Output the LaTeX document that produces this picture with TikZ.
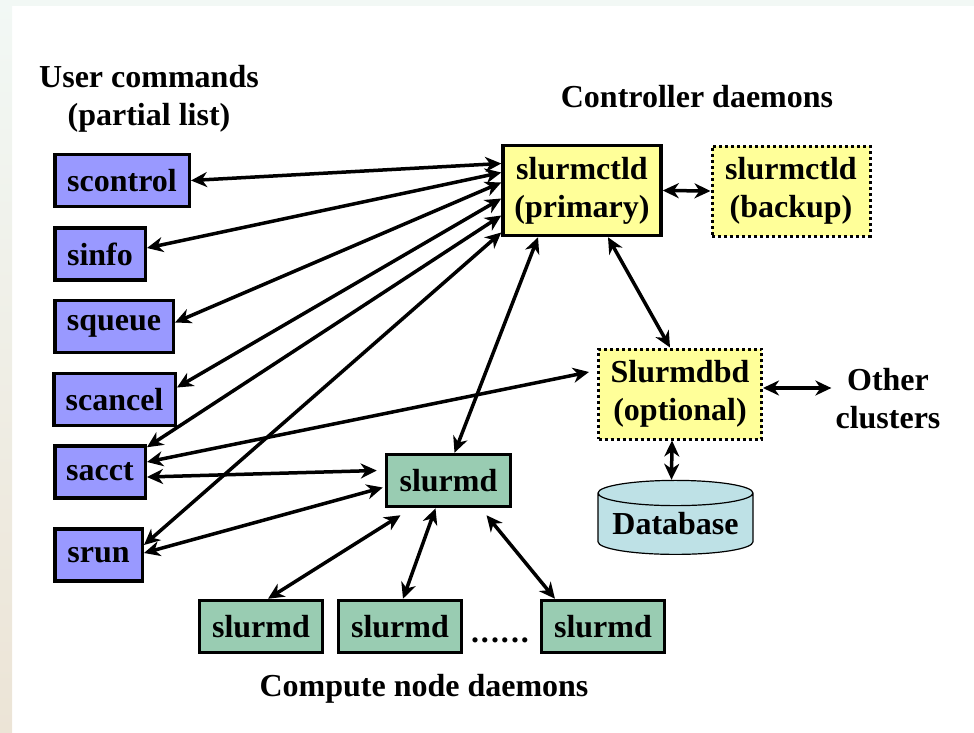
\documentclass[tikz,border=0pt]{standalone}
\usepackage{fontspec}
\setmainfont{Liberation Serif}
\usetikzlibrary{arrows.meta,shapes.geometric}
\definecolor{cmdblue}{RGB}{153,153,255}
\definecolor{ctlyellow}{RGB}{255,255,153}
\definecolor{dgreen}{RGB}{153,204,178}
\definecolor{dbblue}{RGB}{190,225,230}
\definecolor{pagetop}{RGB}{242,248,245}
\definecolor{pageside}{RGB}{236,228,214}

\begin{document}
\begin{tikzpicture}[x=1pt, y=-1pt, font=\fontsize{32}{38}\selectfont\bfseries,
	box/.style={draw=black, line width=3.5pt, inner sep=0pt, align=center},
	cmd/.style={box, fill=cmdblue, minimum height=52pt},
	ctl/.style={box, fill=ctlyellow, minimum width=158pt, minimum height=90pt},
	opt/.style={ctl, line width=3pt, dash pattern=on 3pt off 3pt},
	dmn/.style={box, fill=dgreen, minimum width=123pt, minimum height=52pt},
	link/.style={line width=3.5pt, {Stealth[length=16pt,width=15pt,inset=5pt]}-{Stealth[length=16pt,width=15pt,inset=5pt]}}]

	\useasboundingbox (0,0) rectangle (974,733);
	\fill[pagetop] (0,0) rectangle (974,6);
	\shade[top color=pagetop, bottom color=pageside] (0,0) rectangle (12,733);

	\node[align=center] (usrlbl) at (149,99) {User commands\\(partial list)};
	\node (ctllbl) at (697,97) {Controller daemons};
	\node (cmplbl) at (424,689) {Compute node daemons};

	\node[cmd, minimum width=134.5pt] (scontrol) at (122,180.5) {scontrol};
	\node[cmd, minimum width=90.5pt]  (sinfo)    at (100,254)   {sinfo};
	\node[cmd, minimum width=118.5pt] (squeue)   at (114,326.5) {squeue};
	\node[cmd, minimum width=121.5pt] (scancel)  at (114.5,399.5) {scancel};
	\node[cmd, minimum width=90.5pt]  (sacct)    at (100,472)   {sacct};
	\node[cmd, minimum width=87.5pt]  (srun)     at (98.5,555)  {srun};

	\node[ctl] (primary) at (582,190.5) {slurmctld\\(primary)};
	\node[opt] (backup)  at (791,191)   {slurmctld\\(backup)};
	\node[opt, minimum width=163pt] (dbd) at (680,394) {Slurmdbd\\(optional)};
	\node[align=center, inner sep=4pt] (other) at (888,399) {Other\\clusters};
	\node[cylinder, shape border rotate=90, shape aspect=0.2, draw=black, line width=1.2pt, fill=dbblue,
		minimum width=155pt, minimum height=74pt, inner sep=0pt] (db) at (675.5,524) {Database};

	\node[dmn, minimum width=124pt] (slurmd) at (448.5,480.5) {slurmd};
	\node[dmn] (node1) at (261,626.5) {slurmd};
	\node[dmn] (node2) at (400,626.5) {slurmd};
	\node[anchor=base] (dots) at (500,642) {.\kern2pt.\kern2pt.\kern2pt.\kern2pt.\kern2pt.};
	\node[dmn] (node3) at (603,626.5) {slurmd};

	\draw[link] (scontrol.east) -- ([yshift=27pt]primary.west);
	\draw[link] ([yshift=6pt]sinfo.east) -- ([yshift=18pt]primary.west);
	\draw[link] ([yshift=4pt]squeue.east) -- ([yshift=8pt]primary.west);
	\draw[link] ([yshift=12pt]scancel.east) -- ([yshift=-8pt]primary.west);
	\draw[link] ([yshift=-3pt]sacct.north east) -- ([yshift=-25pt]primary.west);
	\draw[link] ([yshift=10pt]srun.east) -- ([yshift=-42pt]primary.west);

	\draw[link] ([yshift=10pt]sacct.east) -- ([xshift=-8pt,yshift=22pt]dbd.west);
	\draw[link] ([yshift=-5pt]sacct.east) -- ([xshift=-8pt,yshift=10pt]slurmd.west);
	\draw[link] ([yshift=2pt]srun.east) -- ([xshift=-2pt,yshift=-7pt]slurmd.west);

	\draw[link] ([xshift=-44pt]primary.south) -- ([xshift=6pt]slurmd.north);
	\draw[link] ([xshift=26pt]primary.south) -- ([xshift=-10pt]dbd.north);
	\draw[link] (primary.east) -- (backup.west);
	\draw[link] ([yshift=6pt]dbd.east) -- ([yshift=6pt]dbd.east -| other.west);
	\draw[link] ([xshift=-8pt]dbd.south) -- ([xshift=-4pt]db.north);

	\draw[link] ([xshift=-48pt,yshift=-7pt]slurmd.south) -- ([xshift=7pt]node1.north);
	\draw[link] ([xshift=-13pt]slurmd.south) -- ([xshift=3pt]node2.north);
	\draw[link] ([xshift=38pt,yshift=-7pt]slurmd.south) -- ([xshift=-48pt]node3.north);

\end{tikzpicture}
\end{document}
